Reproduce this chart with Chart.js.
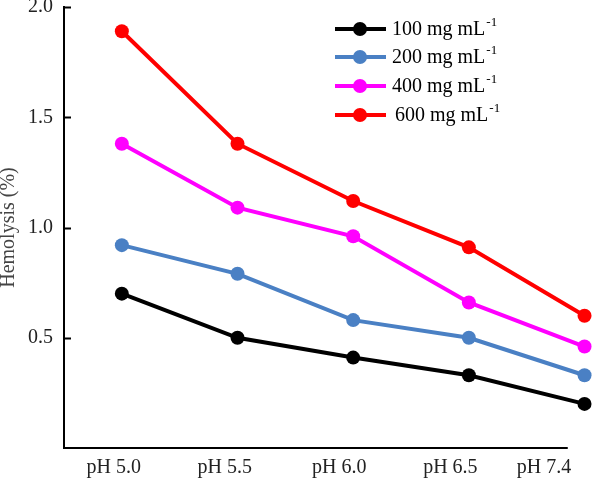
<!DOCTYPE html>
<html>
<head>
<meta charset="utf-8">
<script src="https://cdn.jsdelivr.net/npm/chart.js@4.4.1/dist/chart.umd.min.js"></script>
<style>
  body { margin: 0; background: #fff; }
</style>
</head>
<body>
<canvas id="chart" width="600" height="480"></canvas>
<script>
// data
const phLabels = ['pH 5.0', 'pH 5.5', 'pH 6.0', 'pH 6.5', 'pH 7.4'];
const seriesNames = ['100 mg mL', '200 mg mL', '400 mg mL', '600 mg mL'];
const hem100 = [0.70, 0.50, 0.41, 0.33, 0.20];
const hem200 = [0.92, 0.79, 0.58, 0.50, 0.33];
const hem400 = [1.38, 1.09, 0.96, 0.66, 0.46];
const hem600 = [1.89, 1.38, 1.12, 0.91, 0.60];
const yTicks = [0.5, 1.0, 1.5, 2.0];

const colors = ['#000000', '#4a80c4', '#ff00ff', '#ff0000'];
const allSeries = [hem100, hem200, hem400, hem600];

Chart.defaults.font.family = "'Liberation Serif', 'Times New Roman', serif";

// inward y ticks, and the x axis line that stops short of the last point
const axisExtras = {
    id: 'axisExtras',
    afterDraw(chart) {
        const ctx = chart.ctx;
        const x = chart.scales.x;
        const y = chart.scales.y;
        ctx.save();
        ctx.strokeStyle = '#000';
        ctx.lineWidth = 2;
        yTicks.forEach(v => {
            const py = Math.round(y.getPixelForValue(v)) + 0.5;
            ctx.beginPath();
            ctx.moveTo(y.right, py);
            ctx.lineTo(y.right + 7, py);
            ctx.stroke();
        });
        const by = chart.chartArea.bottom;
        ctx.beginPath();
        ctx.moveTo(y.right - 1, by);
        ctx.lineTo(x.getPixelForValue(3.855), by);
        ctx.stroke();
        ctx.restore();
    }
};

// legend with line + dot symbols and superscript unit
const lineLegend = {
    id: 'lineLegend',
    afterDatasetsDraw(chart) {
        const ctx = chart.ctx;
        const rows = [29, 57, 86, 115];
        ctx.save();
        chart.data.datasets.forEach((ds, i) => {
            const y = rows[i];
            ctx.strokeStyle = ds.borderColor;
            ctx.lineWidth = 4;
            ctx.beginPath();
            ctx.moveTo(335, y);
            ctx.lineTo(386, y);
            ctx.stroke();
            ctx.fillStyle = ds.borderColor;
            ctx.beginPath();
            ctx.arc(360, y, 7, 0, Math.PI * 2);
            ctx.fill();

            const tx = i === 3 ? 395 : 392;
            ctx.fillStyle = '#000';
            ctx.textBaseline = 'middle';
            ctx.font = "20px 'Liberation Serif', serif";
            ctx.fillText(seriesNames[i], tx, y + 1);
            const w = ctx.measureText(seriesNames[i]).width;
            ctx.font = "13px 'Liberation Serif', serif";
            ctx.fillText('-1', tx + w + 1, y - 6);
        });
        ctx.restore();
    }
};

const ctx = document.getElementById('chart').getContext('2d');
new Chart(ctx, {
    type: 'line',
    data: {
        datasets: allSeries.map((vals, i) => ({
            label: seriesNames[i] + '-1',
            data: vals.map((v, j) => ({ x: j, y: v })),
            borderColor: colors[i],
            backgroundColor: colors[i],
            borderWidth: 4,
            pointRadius: 7,
            pointHoverRadius: 7,
            pointBorderWidth: 0,
            tension: 0,
            clip: false,
        })),
    },
    options: {
        animation: false,
        responsive: false,
        events: [],
        layout: { padding: { top: 4, right: 12, left: 0, bottom: 0 } },
        plugins: {
            legend: { display: false },
            tooltip: { enabled: false },
        },
        scales: {
            x: {
                type: 'linear',
                min: -0.5,
                max: 4.03,
                grid: { display: false, drawTicks: false },
                border: { display: false },
                afterBuildTicks: (scale) => {
                    scale.ticks = [-0.07, 0.89, 1.88, 2.84, 3.65].map(v => ({ value: v }));
                },
                ticks: {
                    autoSkip: false,
                    maxRotation: 0,
                    padding: 8,
                    color: '#222',
                    font: { size: 20 },
                    callback: (v, i) => phLabels[i],
                },
                afterFit: (scale) => {
                    scale.height = 32;
                    scale.paddingLeft = 0;
                    scale.paddingRight = 0;
                },
            },
            y: {
                min: 0,
                max: 2,
                grid: { display: false, drawTicks: false },
                border: { display: true, color: '#000', width: 2 },
                afterBuildTicks: (scale) => {
                    scale.ticks = yTicks.map(v => ({ value: v }));
                },
                ticks: {
                    padding: 11,
                    color: '#222',
                    font: { size: 20 },
                    callback: (v) => v.toFixed(1),
                },
                title: {
                    display: true,
                    text: 'Hemolysis (%)',
                    color: '#444',
                    font: { size: 20 },
                    padding: { top: -3, bottom: 0 },
                },
                afterFit: (scale) => {
                    scale.width = 64;
                    scale.paddingTop = 0;
                    scale.paddingBottom = 0;
                },
            },
        },
    },
    plugins: [axisExtras, lineLegend],
});
</script>
</body>
</html>
